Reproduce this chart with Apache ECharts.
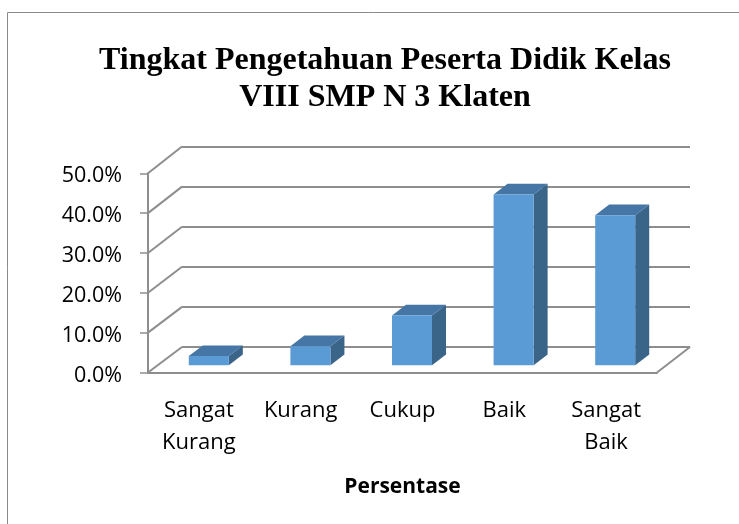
<!DOCTYPE html>
<html>
<head>
<meta charset="utf-8">
<script src="https://cdn.jsdelivr.net/npm/echarts@6/dist/echarts.min.js"></script>
<style>
  html, body { margin: 0; padding: 0; background: #fff; }
  #chart { width: 739px; height: 524px; }
</style>
</head>
<body>
<div id="chart"></div>
<script>
const chartTitle = 'Tingkat Pengetahuan Peserta Didik Kelas\nVIII SMP N 3 Klaten';
const categories = ['Sangat\nKurang', 'Kurang', 'Cukup', 'Baik', 'Sangat\nBaik'];
const values = [2.3, 4.8, 12.5, 42.8, 37.6];
const yTicks = [0, 10, 20, 30, 40, 50];
const axisName = 'Persentase';

// layout (styles)
const FRONT = { left: 148, top: 173.3, width: 509, height: 199.2 };
const BACK = { left: 182, top: 146.5, width: 508, height: 200.5 };
const BARPLANE = { left: 158, top: 165.8, width: 508, height: 199.5 };
const DEPTH = [14, -10.7];
const BAR_RATIO = 0.394;
const GRID_COLOR = '#8e8e8e';
const FRONT_COLOR = '#5B9BD5';
const TOP_COLOR = '#4576A5';
const SIDE_COLOR = '#3B6489';
const SANS = '"Open Sans", sans-serif';

const chart = echarts.init(document.getElementById('chart'), null, { renderer: 'canvas' });

const option = {
  animation: false,
  backgroundColor: '#fff',
  title: {
    text: chartTitle,
    left: 380,
    top: 37,
    textAlign: 'center',
    textStyle: {
      fontFamily: '"Liberation Serif", "Times New Roman", serif',
      fontWeight: 'bold',
      fontSize: 32,
      lineHeight: 37,
      color: '#000'
    }
  },
  grid: [
    Object.assign({}, FRONT),
    Object.assign({}, BACK),
    Object.assign({}, BARPLANE)
  ],
  xAxis: [
    {
      type: 'category', gridIndex: 0, data: categories,
      axisLine: { show: true, lineStyle: { color: GRID_COLOR, width: 2 } },
      axisTick: { show: false },
      splitLine: { show: false },
      axisLabel: { margin: 22, fontSize: 22, lineHeight: 32, color: '#000', fontFamily: SANS, interval: 0 },
      name: axisName, nameLocation: 'middle', nameGap: 104,
      nameTextStyle: { fontSize: 21, fontWeight: 'bold', color: '#000', fontFamily: SANS }
    },
    { type: 'value', gridIndex: 1, min: 0, max: 1, show: false },
    { type: 'category', gridIndex: 2, data: categories, show: false }
  ],
  yAxis: [
    {
      type: 'value', gridIndex: 0, min: 0, max: 50, interval: 10,
      axisLine: { show: true, lineStyle: { color: GRID_COLOR, width: 2 } },
      axisTick: { show: true, length: 8, lineStyle: { color: GRID_COLOR, width: 1.5 } },
      splitLine: { show: false },
      axisLabel: {
        margin: 26, fontSize: 21.5, color: '#000', fontFamily: SANS,
        verticalAlign: 'top', lineHeight: 6,
        formatter: v => v.toFixed(1) + '%'
      }
    },
    {
      type: 'value', gridIndex: 1, min: 0, max: 50, interval: 10,
      axisLine: { show: false }, axisTick: { show: false }, axisLabel: { show: false },
      splitLine: { show: true, lineStyle: { color: GRID_COLOR, width: 2 } }
    },
    { type: 'value', gridIndex: 2, min: 0, max: 50, interval: 10, show: false }
  ],
  series: [
    {
      type: 'custom',
      xAxisIndex: 2, yAxisIndex: 2,
      data: values.map((v, i) => [i, v]),
      renderItem: function (params, api) {
        const i = api.value(0), v = api.value(1);
        const top = api.coord([i, v]);
        const base = api.coord([i, 0]);
        const w = api.size([1, 0])[0] * BAR_RATIO;
        const x0 = top[0] - w / 2, x1 = top[0] + w / 2;
        const dx = DEPTH[0], dy = DEPTH[1];
        return {
          type: 'group',
          children: [
            { type: 'polygon', shape: { points: [[x1, base[1]], [x1, top[1]], [x1 + dx, top[1] + dy], [x1 + dx, base[1] + dy]] }, style: { fill: SIDE_COLOR } },
            { type: 'polygon', shape: { points: [[x0, top[1]], [x1, top[1]], [x1 + dx, top[1] + dy], [x0 + dx, top[1] + dy]] }, style: { fill: TOP_COLOR } },
            { type: 'rect', shape: { x: x0, y: top[1], width: w, height: base[1] - top[1] }, style: { fill: FRONT_COLOR } }
          ]
        };
      }
    }
  ]
};
chart.setOption(option);

// wall diagonals and floor edge computed through the axes
const graphics = [];
const backLeft = chart.convertToPixel({ xAxisIndex: 1 }, 0);
const backRight = chart.convertToPixel({ xAxisIndex: 1 }, 1);
yTicks.forEach(v => {
  const fy = chart.convertToPixel({ yAxisIndex: 0 }, v);
  const by = chart.convertToPixel({ yAxisIndex: 1 }, v);
  graphics.push({
    type: 'line', z: 1,
    shape: { x1: FRONT.left, y1: fy, x2: backLeft, y2: by },
    style: { stroke: GRID_COLOR, lineWidth: 2 }
  });
});
const f0 = chart.convertToPixel({ yAxisIndex: 0 }, 0);
const b0 = chart.convertToPixel({ yAxisIndex: 1 }, 0);
graphics.push({
  type: 'line', z: 1,
  shape: { x1: FRONT.left + FRONT.width, y1: f0, x2: backRight, y2: b0 },
  style: { stroke: GRID_COLOR, lineWidth: 2 }
});
graphics.push({
  type: 'rect', z: 0,
  shape: { x: 7.5, y: 12.5, width: 780, height: 580 },
  style: { fill: 'none', stroke: '#8a8a8a', lineWidth: 1 }
});
chart.setOption({ graphic: graphics });
</script>
</body>
</html>
